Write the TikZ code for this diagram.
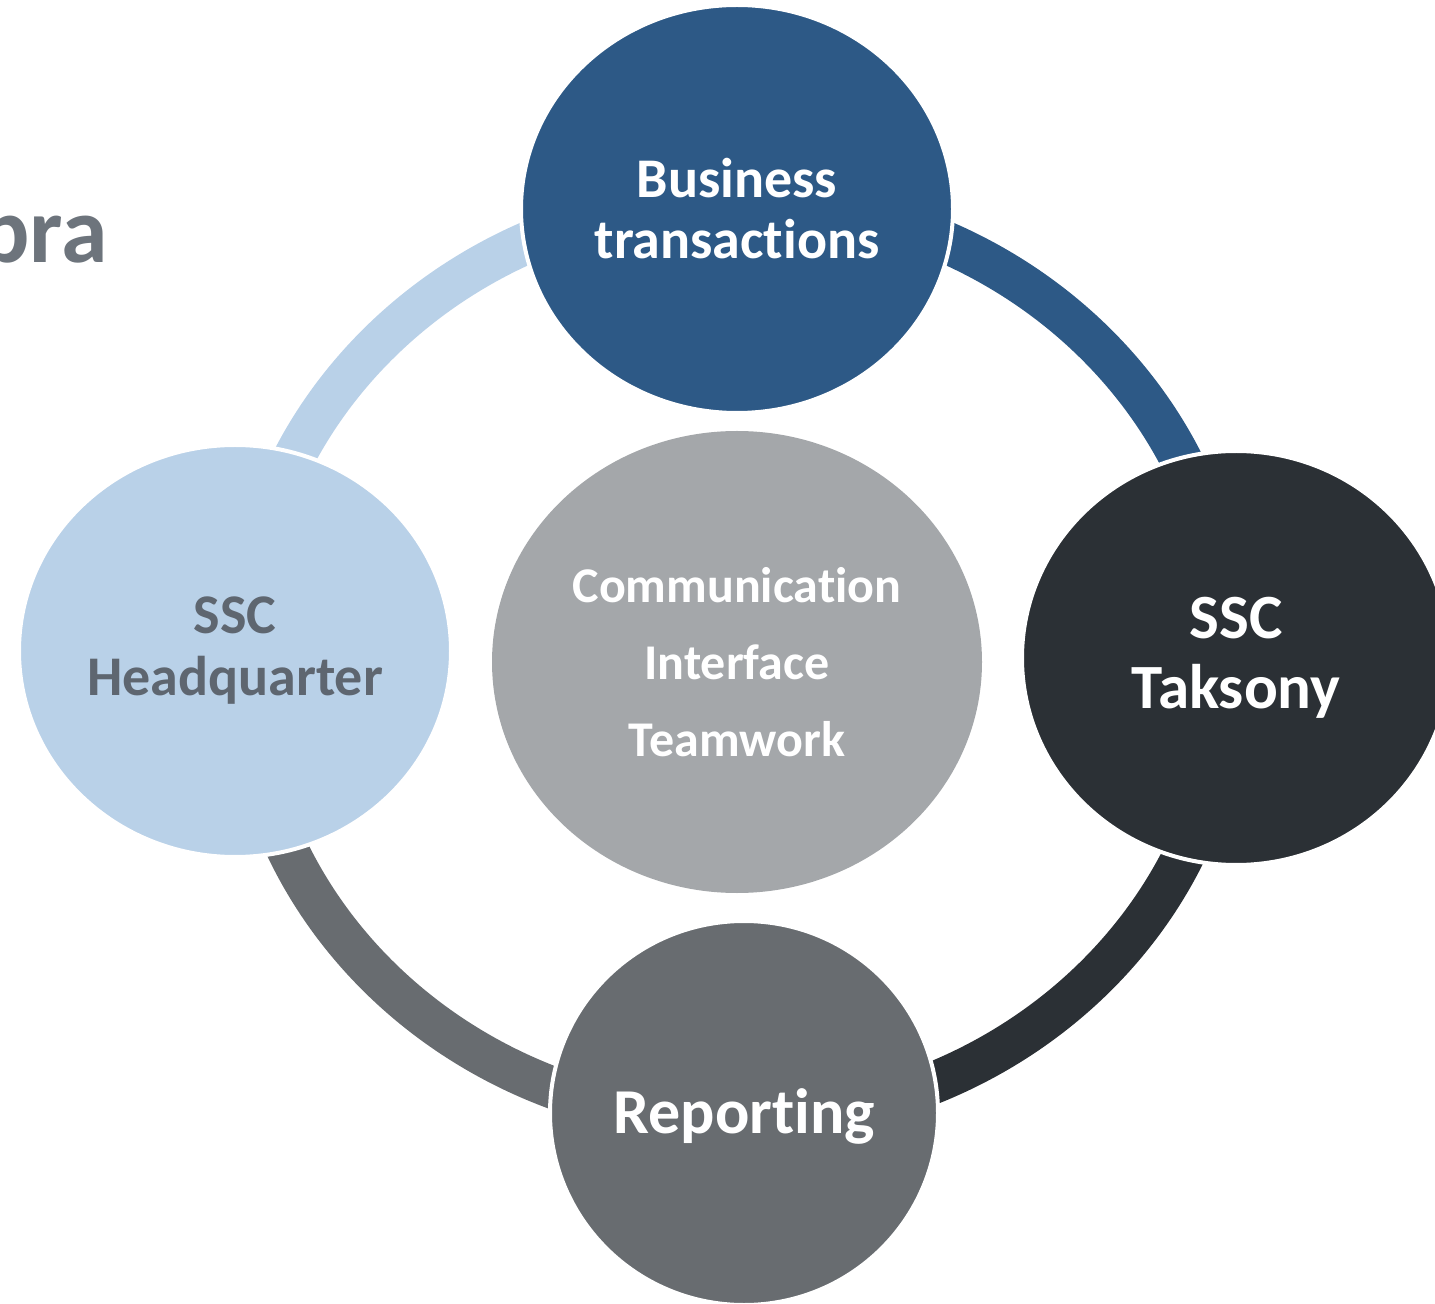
\documentclass[tikz,border=0pt]{standalone}
\usepackage{fontspec}
\setmainfont[Ligatures=NoCommon,RawFeature=-liga]{Carlito}
\usetikzlibrary{shapes.geometric}
\definecolor{cblue}{HTML}{2D5986}
\definecolor{clight}{HTML}{B9D1E8}
\definecolor{cdark}{HTML}{2B3035}
\definecolor{cgray}{HTML}{686C70}
\definecolor{cmid}{HTML}{A4A7AA}
\definecolor{ctext}{HTML}{5E6670}
\definecolor{ctitle}{HTML}{6D747C}
\tikzset{
  bub/.style={ellipse, inner sep=0pt, draw=white, line width=2pt, align=center},
  ringseg/.style={line width=21pt},
}
\begin{document}
\begin{tikzpicture}[x=0.5pt,y=0.5pt]
\useasboundingbox (0,0) rectangle (1435,1303);
\clip (0,0) rectangle (1435,1303);
% title fragment
\node[anchor=base east, inner sep=0pt, text=ctitle, font=\bfseries\fontsize{47}{47}\selectfont] (title) at (108,1040) {pra};
% ring
\coordinate (rc) at (737,643);
\coordinate (rtop) at (737,1104);
\coordinate (rright) at (1230,643);
\coordinate (rbot) at (737,182);
\coordinate (rleft) at (244,643);
\draw[ringseg, cblue]  (rtop)   arc[start angle=90,  end angle=0,    x radius=493, y radius=461];
\draw[ringseg, cdark]  (rright) arc[start angle=0,   end angle=-90,  x radius=493, y radius=461];
\draw[ringseg, cgray]  (rbot)   arc[start angle=-90, end angle=-180, x radius=493, y radius=461];
\draw[ringseg, clight] (rleft)  arc[start angle=180, end angle=90,   x radius=493, y radius=461];
% bubbles
\node[bub, fill=cblue, minimum width=216pt, minimum height=204pt, text=white,
      font=\bfseries\fontsize{28}{30.5}\selectfont] (top) at (737,1094) {Business\\transactions};
\node[bub, fill=clight, minimum width=216pt, minimum height=206pt, text=ctext,
      font=\bfseries\fontsize{28}{31}\selectfont] (left) at (235,652) {SSC\\Headquarter};
\node[bub, fill=cdark, minimum width=214pt, minimum height=207pt, text=white,
      font=\bfseries\fontsize{31.5}{35}\selectfont] (right) at (1236,645) {SSC\\Taksony};
\node[bub, fill=cgray, minimum width=194pt, minimum height=192pt] (bottom) at (744,190) {};
\node[text=white, font=\bfseries\fontsize{32}{36}\selectfont] (reptext) at (744,187) {Reporting};
\node[bub, draw=none, fill=cmid, minimum width=245pt, minimum height=231pt, text=white,
      font=\bfseries\fontsize{25}{38.5}\selectfont] (center) at (737,641) {Communication\\Interface\\Teamwork};
\end{tikzpicture}
\end{document}
